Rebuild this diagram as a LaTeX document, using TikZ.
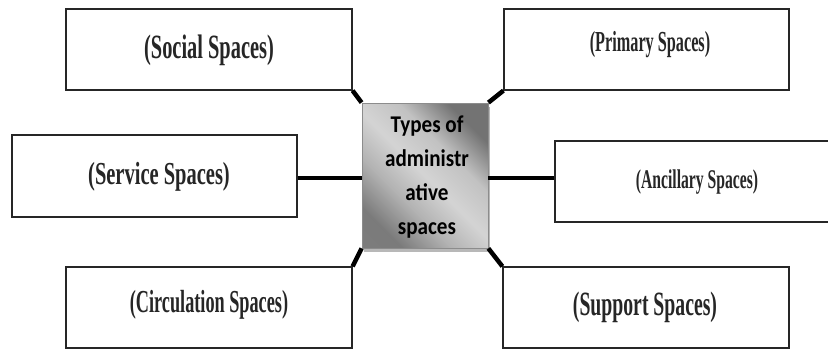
\documentclass[tikz,border=0pt]{standalone}
\usepackage{fontspec}
\usepackage{graphicx}
\usetikzlibrary{shadows}
\newfontfamily\lserif{Liberation Serif}
\newfontfamily\carl[FakeStretch=0.88]{Carlito}
\newcommand\splabel[3]{\scalebox{#2}[1]{\fontsize{#1}{#1}\selectfont\lserif\bfseries #3}}
\pgfdeclarehorizontalshading{metal}{100bp}{color(0bp)=(black!50); color(25bp)=(black!52); color(38bp)=(black!30); color(50bp)=(black!17); color(62bp)=(black!24); color(75bp)=(black!55); color(100bp)=(black!55)}
\begin{document}
\begin{tikzpicture}[x=1pt,y=-1pt,
  spacebox/.style={draw=black!85, line width=1.2pt, fill=white, inner sep=0pt},
  lbl/.style={inner sep=0pt, text=black!85},
  hub/.style={draw=black!45, line width=0.8pt, shading=metal, shading angle=45, inner sep=0pt,
     drop shadow={shadow xshift=2pt, shadow yshift=-4pt, fill=black!28, opacity=1}},
  link/.style={line width=4.5pt, black}]
\useasboundingbox (0,0) rectangle (828,349);
% boxes
\node[spacebox, minimum width=286pt, minimum height=81pt] (social) at (209,49.5) {};
\node[spacebox, minimum width=285pt, minimum height=81pt] (primary) at (646.5,49.5) {};
\node[spacebox, minimum width=285pt, minimum height=82pt] (service) at (154.5,176) {};
\node[spacebox, minimum width=280pt, minimum height=81pt] (ancillary) at (695,181.5) {};
\node[spacebox, minimum width=286pt, minimum height=81pt] (circulation) at (209,307.5) {};
\node[spacebox, minimum width=286pt, minimum height=81pt] (support) at (646,307.5) {};
% hub
\node[hub, minimum width=126pt, minimum height=145pt] (hubbox) at (425,175.5) {};
\node[lbl, align=center, text=black, font={\carl\bfseries\fontsize{24}{34}\selectfont}] (hubtext) at (427,177) {Types of\\administr\\ative\\spaces};
% labels
\node[lbl] (socialtext) at (209,50) {\splabel{34}{0.60}{(Social Spaces)}};
\node[lbl] (primarytext) at (650,45) {\splabel{29}{0.56}{(Primary Spaces)}};
\node[lbl] (servicetext) at (159,177) {\splabel{32}{0.64}{(Service Spaces)}};
\node[lbl] (ancillarytext) at (697,182) {\splabel{27}{0.58}{(Ancillary Spaces)}};
\node[lbl] (circulationtext) at (209,305) {\splabel{32}{0.57}{(Circulation Spaces)}};
\node[lbl] (supporttext) at (645,307) {\splabel{34}{0.58}{(Support Spaces)}};
% connectors
\draw[link] (social.south east) -- (hubbox.north west);
\draw[link] (primary.south west) -- (hubbox.north east);
\draw[link] (service.east) ++(0,2) coordinate (sv) (sv) -- (sv -| hubbox.west);
\draw[link] (hubbox.east |- sv) -- (sv -| ancillary.west);
\draw[link] (circulation.north east) -- (hubbox.south west);
\draw[link] (support.north west) -- (hubbox.south east);
\end{tikzpicture}
\end{document}
